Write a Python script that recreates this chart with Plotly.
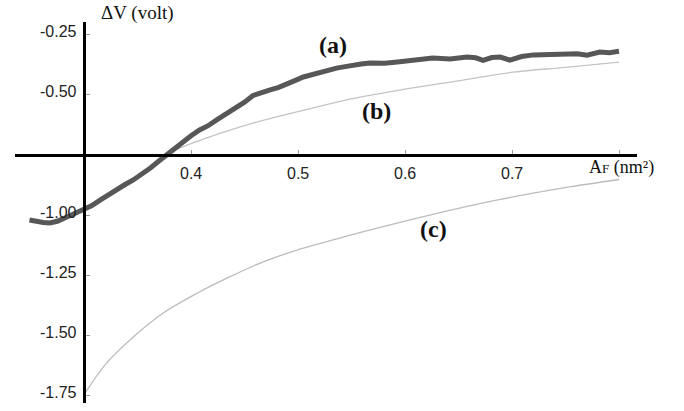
import plotly.graph_objects as go

# ---- data ----
a_x = [0.249,0.256,0.262,0.268,0.275,0.284,0.291,0.299,0.307,0.315,0.323,0.331,0.338,0.346,0.354,
       0.362,0.370,0.379,0.386,0.393,0.400,0.408,0.416,0.424,0.433,0.443,0.450,0.458,0.466,0.474,
       0.482,0.490,0.497,0.505,0.513,0.521,0.528,0.536,0.544,0.551,0.559,0.567,0.581,0.595,0.610,
       0.626,0.642,0.658,0.666,0.673,0.681,0.689,0.698,0.709,0.720,0.735,0.751,0.761,0.770,0.782,
       0.791,0.800]
a_y = [-1.021,-1.028,-1.031,-1.033,-1.026,-1.008,-0.995,-0.979,-0.962,-0.938,-0.915,-0.888,-0.874,
       -0.854,-0.832,-0.804,-0.775,-0.742,-0.718,-0.696,-0.670,-0.646,-0.628,-0.604,-0.580,-0.550,
       -0.530,-0.502,-0.493,-0.479,-0.468,-0.450,-0.440,-0.425,-0.415,-0.404,-0.396,-0.388,-0.382,
       -0.375,-0.371,-0.367,-0.368,-0.362,-0.356,-0.346,-0.350,-0.342,-0.345,-0.356,-0.344,-0.342,
       -0.355,-0.340,-0.333,-0.331,-0.325,-0.328,-0.334,-0.321,-0.324,-0.318]

b_x = [0.374,0.400,0.427,0.458,0.502,0.551,0.601,0.651,0.701,0.750,0.800]
b_y = [-0.750,-0.703,-0.660,-0.617,-0.567,-0.515,-0.475,-0.440,-0.405,-0.385,-0.363]

c_x = [0.301,0.321,0.346,0.374,0.406,0.436,0.467,0.499,0.521,0.564,0.626,0.689,0.751,0.800]
c_y = [-1.742,-1.617,-1.508,-1.408,-1.325,-1.258,-1.196,-1.146,-1.118,-1.066,-0.997,-0.935,-0.885,-0.852]

x_tickvals = [0.4, 0.5, 0.6, 0.7, 0.8]
x_ticktext = ["0.4", "0.5", "0.6", "0.7"]
y_tickvals = [-0.25, -0.50, -1.00, -1.25, -1.50, -1.75]
y_ticktext = ["-0.25", "-0.50", "-1.00", "-1.25", "-1.50", "-1.75"]

curve_labels = ["(a)", "(b)", "(c)"]
curve_label_x = [0.533, 0.573, 0.627]
curve_label_y = [-0.292, -0.567, -1.058]

x_origin = 0.3
y_origin = -0.75

W, H = 684, 411
x_range = [0.2355, 0.8168]
y_range = [-1.783, -0.196]
x_dom = [15 / W, 637 / W]
y_dom = [1 - 403 / H, 1 - 22 / H]

def xpaper(v):
    return x_dom[0] + (v - x_range[0]) / (x_range[1] - x_range[0]) * (x_dom[1] - x_dom[0])

def ypaper(v):
    return y_dom[0] + (v - y_range[0]) / (y_range[1] - y_range[0]) * (y_dom[1] - y_dom[0])

fig = go.Figure()
fig.add_trace(go.Scatter(x=c_x, y=c_y, mode="lines", line=dict(color="#bcbcbc", width=1.3, shape="spline"),
                         showlegend=False, hoverinfo="skip"))
fig.add_trace(go.Scatter(x=b_x, y=b_y, mode="lines", line=dict(color="#c4c4c4", width=1.3, shape="spline"),
                         showlegend=False, hoverinfo="skip"))
fig.add_trace(go.Scatter(x=a_x, y=a_y, mode="lines", line=dict(color="#575757", width=5),
                         showlegend=False, hoverinfo="skip"))

tick_font = dict(family="Liberation Sans", size=16, color="#222222")
for v, t in zip(y_tickvals, y_ticktext):
    fig.add_annotation(x=x_origin, y=v, text=t, showarrow=False, xanchor="right", yanchor="middle",
                       xshift=-5, yshift=3, font=tick_font)
for v, t in zip(x_tickvals, x_ticktext):
    fig.add_annotation(x=v, y=y_origin, text=t, showarrow=False, xanchor="center", yanchor="middle",
                       yshift=-18, font=tick_font)

for t, xx, yy in zip(curve_labels, curve_label_x, curve_label_y):
    fig.add_annotation(x=xx, y=yy, text="<b>%s</b>" % t, showarrow=False, xanchor="center",
                       font=dict(family="Liberation Serif", size=24, color="#111111"))

fig.add_annotation(x=x_tickvals[-1], y=y_origin, yshift=-12, xshift=2, xanchor="center",
                   text="A<span style='font-size:13px'>F</span> (nm²)", showarrow=False,
                   font=dict(family="Liberation Serif", size=18, color="#111111"))
fig.add_annotation(x=137 / W, y=1 - 13 / H, xref="paper", yref="paper", text="ΔV (volt)", showarrow=False,
                   xanchor="center", yanchor="middle",
                   font=dict(family="Liberation Serif", size=19, color="#111111"))

fig.update_layout(
    width=W, height=H, margin=dict(l=0, r=0, t=0, b=0),
    paper_bgcolor="white", plot_bgcolor="white",
    xaxis=dict(domain=x_dom, range=x_range, anchor="free", position=ypaper(y_origin),
               showline=True, linecolor="#000000", linewidth=2.6, showgrid=False, zeroline=False,
               tickvals=x_tickvals, showticklabels=False, ticks="inside", ticklen=4, tickwidth=1,
               tickcolor="#999999"),
    yaxis=dict(domain=y_dom, range=y_range, anchor="free", position=xpaper(x_origin),
               showline=True, linecolor="#000000", linewidth=2.6, showgrid=False, zeroline=False,
               tickvals=y_tickvals, showticklabels=False, ticks="inside", ticklen=4, tickwidth=1,
               tickcolor="#999999"),
)

fig.write_html("out.html", config={"displayModeBar": False},
               post_script="document.body.style.margin='0';document.body.style.overflow='hidden';")
